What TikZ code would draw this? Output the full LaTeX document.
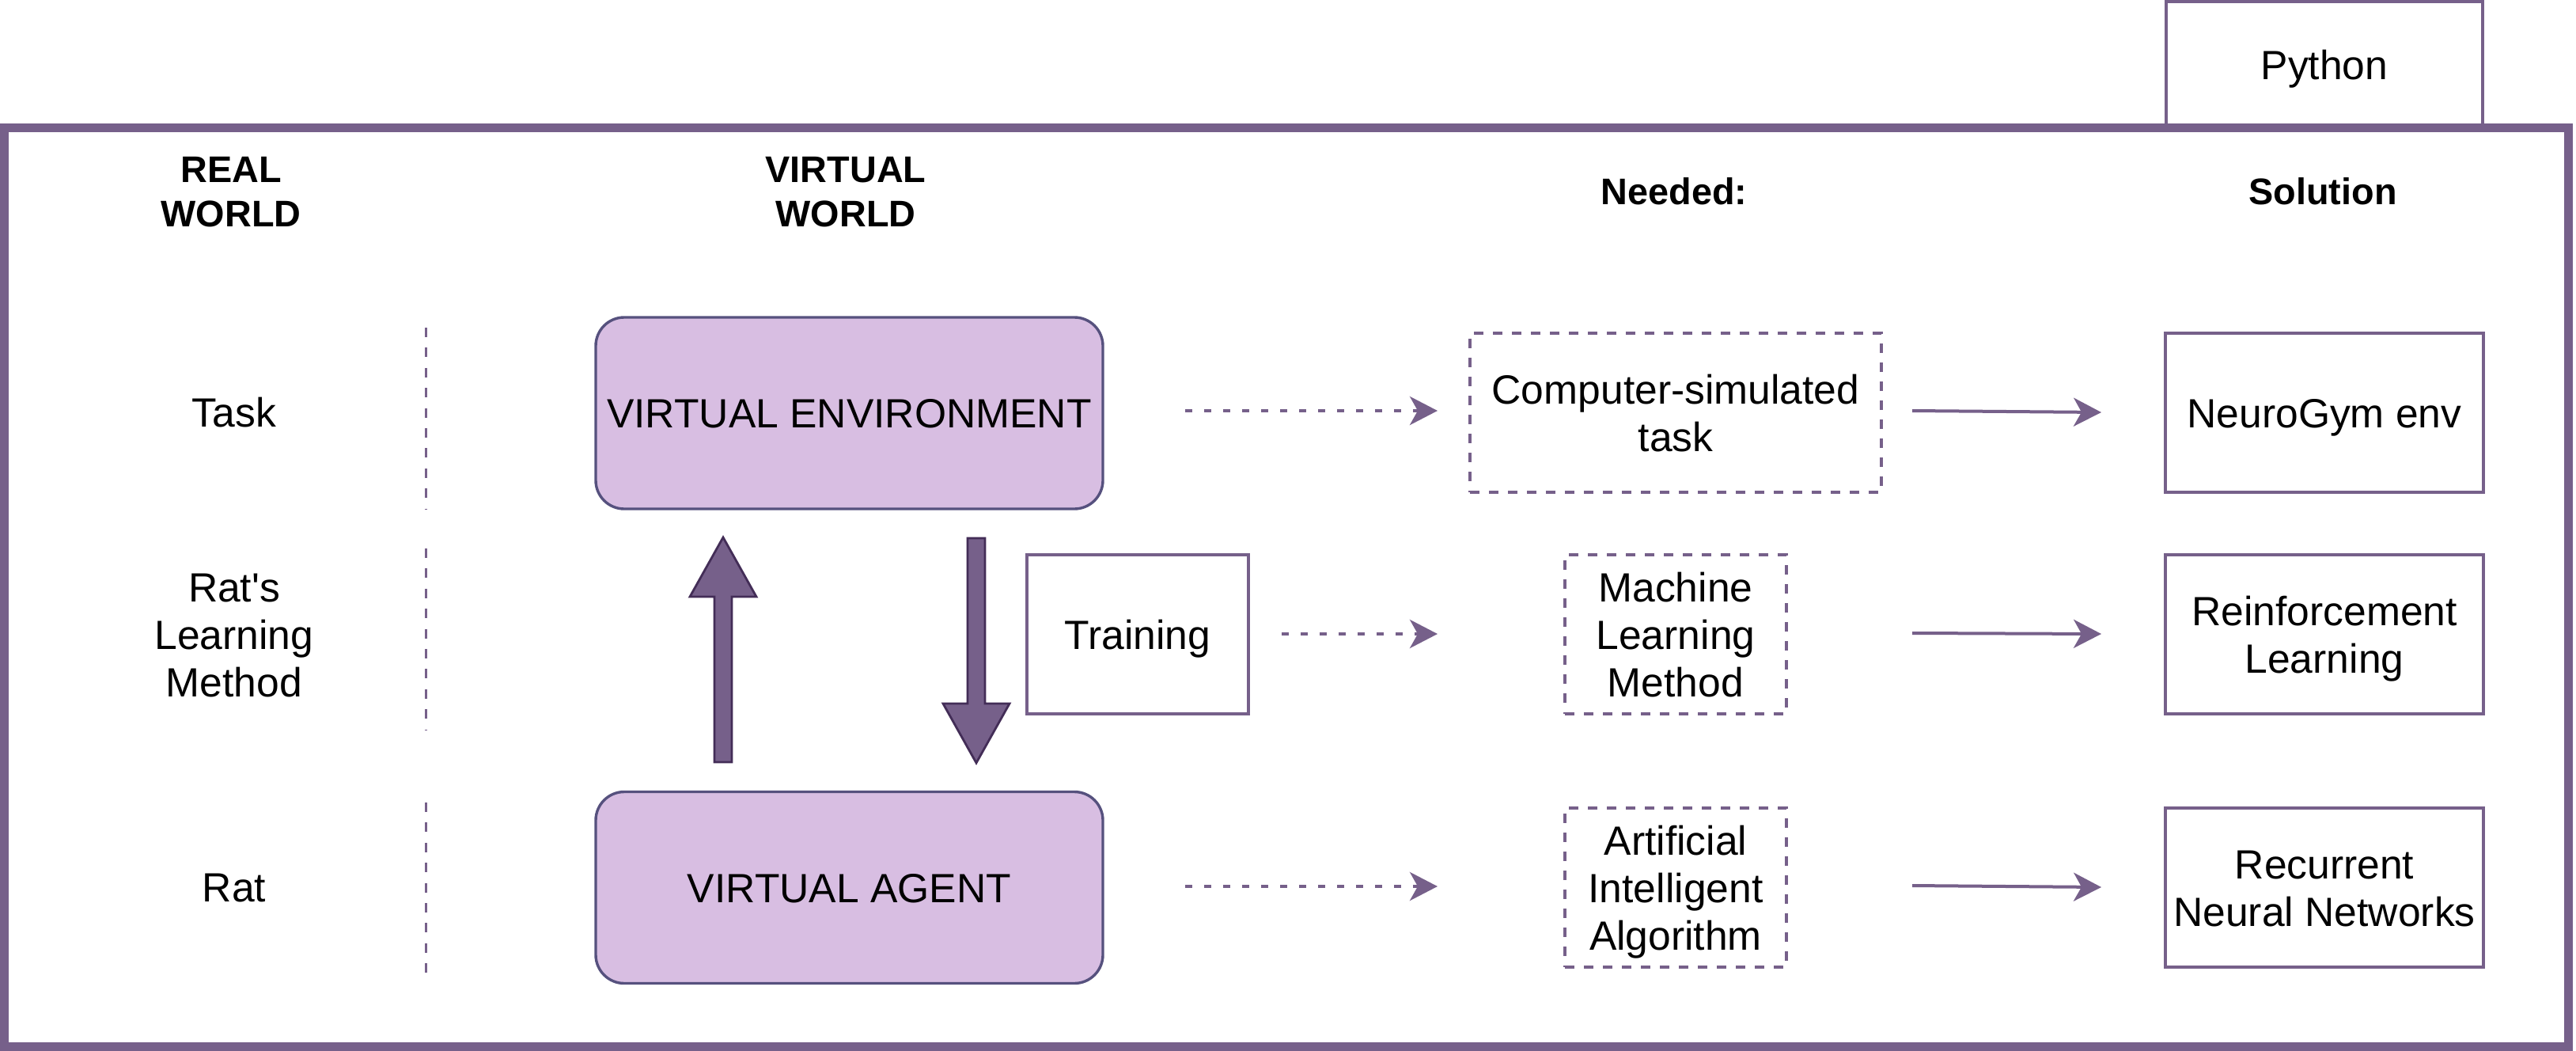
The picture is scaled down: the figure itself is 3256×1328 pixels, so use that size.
\documentclass[tikz,border=0pt]{standalone}
\usepackage{fontspec}
\setmainfont{Liberation Sans}[Ligatures=TeXOff]
\usetikzlibrary{arrows.meta}
\definecolor{purp}{HTML}{76608A}
\definecolor{dpurp}{HTML}{432D57}
\definecolor{envstroke}{HTML}{56517E}
\definecolor{envfill}{HTML}{D8BEE2}
\newcommand{\sr}{\rule[-2.85pt]{0pt}{15pt}}
\newcommand{\sh}{\rule[-2.8pt]{0pt}{14pt}}
\begin{document}
\begin{tikzpicture}[x=0.25pt,y=-0.25pt,
  txt/.style={font=\fontsize{12.9}{15}\selectfont, align=center, inner sep=0pt},
  hdr/.style={font=\fontsize{11.7}{14}\selectfont\bfseries, align=center, inner sep=0pt},
  boxsolid/.style={draw=purp, line width=1pt, fill=white, inner sep=0pt, txt},
  boxdash/.style={draw=purp, line width=0.85pt, dash pattern=on 3pt off 3pt, inner sep=0pt, txt},
  world/.style={draw=envstroke, fill=envfill, line width=0.85pt, rounded corners=9pt, inner sep=0pt, txt, minimum width=641*0.25pt, minimum height=242*0.25pt},
  dasharrow/.style={draw=purp, line width=1.1pt, dash pattern=on 2.25pt off 3.75pt, -{Stealth[length=8.75pt,width=9pt,inset=2.5pt]}},
  solidarrow/.style={draw=purp, line width=1pt, -{Stealth[length=8.75pt,width=9pt,inset=2.5pt]}},
  sepline/.style={draw=purp, line width=0.75pt, dash pattern=on 3pt off 3.35pt},
  blockarrow/.style={fill=purp, draw=dpurp, line width=0.7pt, line join=miter}
]
\useasboundingbox (0,0) rectangle (3256,1328);

% Python tab and frame
\node[boxsolid, minimum width=400*0.25pt, minimum height=159*0.25pt] (python) at (2938,81.5) {Python\sr};
\draw[purp, line width=2.75pt] (5,161) rectangle (3246,1322);

% headers
\node[hdr] (hreal) at (292,242) {REAL\sh\\WORLD\sh};
\node[hdr] (hvirt) at (1069,242) {VIRTUAL\sh\\WORLD\sh};
\node[hdr] (hneed) at (2116,242) {Needed:\sh};
\node[hdr] (hsol) at (2936,242) {Solution\sh};

% row labels
\node[txt] (ltask) at (296,521) {Task\sr};
\node[txt] (lrlm) at (296,802) {Rat's\sr\\Learning\sr\\Method\sr};
\node[txt] (lrat) at (296,1121) {Rat\sr};

% separators
\coordinate (sep1a) at (538,414); \coordinate (sep1b) at (538,643);
\coordinate (sep2a) at (538,693); \coordinate (sep2b) at (538,922);
\coordinate (sep3a) at (538,1014); \coordinate (sep3b) at (538,1241);
\draw[sepline] (sep1a) -- (sep1b);
\draw[sepline] (sep2a) -- (sep2b);
\draw[sepline] (sep3a) -- (sep3b);

% virtual world boxes
\node[world] (env) at (1073.5,522) {VIRTUAL ENVIRONMENT\sr};
\node[world] (agent) at (1073.5,1121.5) {VIRTUAL AGENT\sr};

% block arrows
\filldraw[blockarrow] (903,963) -- (903,754) -- (872,754) -- (914,679) -- (956,754) -- (925,754) -- (925,963) -- cycle;
\filldraw[blockarrow] (1223,680) -- (1245,680) -- (1245,889) -- (1276,889) -- (1234,964) -- (1192,889) -- (1223,889) -- cycle;

% training
\node[boxsolid, minimum width=280*0.25pt, minimum height=201*0.25pt] (training) at (1438,801.5) {Training\sr};

% needed boxes
\node[boxdash, minimum width=520*0.25pt, minimum height=201*0.25pt] (need1) at (2118,521.5) {Computer-simulated\sr\\task\sr};
\node[boxdash, minimum width=280*0.25pt, minimum height=201*0.25pt] (need2) at (2118,801.5) {Machine\sr\\Learning\sr\\Method\sr};
\node[boxdash, minimum width=280*0.25pt, minimum height=201*0.25pt] (need3) at (2118,1121.5) {Artificial\sr\\Intelligent\sr\\Algorithm\sr};

% solution boxes
\node[boxsolid, minimum width=402*0.25pt, minimum height=201*0.25pt] (sol1) at (2938,521.5) {NeuroGym env\sr};
\node[boxsolid, minimum width=402*0.25pt, minimum height=201*0.25pt] (sol2) at (2938,801.5) {Reinforcement\sr\\Learning\sr};
\node[boxsolid, minimum width=402*0.25pt, minimum height=201*0.25pt] (sol3) at (2938,1121.5) {Recurrent\sr\\Neural Networks\sr};

% connectors
\coordinate (d1s) at (1498,519); \coordinate (d1e) at (1817,519);
\coordinate (d2s) at (1620,801); \coordinate (d2e) at (1817,801);
\coordinate (d3s) at (1498,1120); \coordinate (d3e) at (1817,1120);
\coordinate (s1s) at (2417,519); \coordinate (s1e) at (2656,521);
\coordinate (s2s) at (2417,800); \coordinate (s2e) at (2656,801);
\coordinate (s3s) at (2417,1119); \coordinate (s3e) at (2656,1121);
\draw[dasharrow] (d1s) -- (d1e);
\draw[dasharrow] (d2s) -- (d2e);
\draw[dasharrow] (d3s) -- (d3e);
\draw[solidarrow] (s1s) -- (s1e);
\draw[solidarrow] (s2s) -- (s2e);
\draw[solidarrow] (s3s) -- (s3e);
\end{tikzpicture}
\end{document}
